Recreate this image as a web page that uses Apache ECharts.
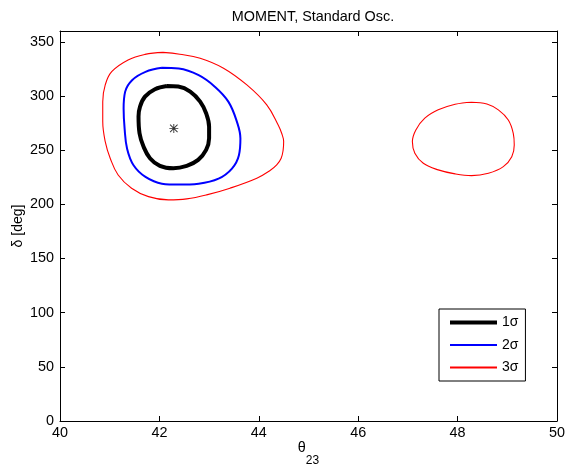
<!DOCTYPE html>
<html><head><meta charset="utf-8">
<script src="https://cdn.jsdelivr.net/npm/echarts@6/dist/echarts.min.js"></script>
<style>html,body{margin:0;padding:0;background:#fff}#c{width:565px;height:466px}</style>
</head><body><div id="c"></div>
<script>
var titleText = 'MOMENT, Standard Osc.';
var xTicks = [40, 42, 44, 46, 48, 50];
var yTicks = [0, 50, 100, 150, 200, 250, 300, 350];
var legendNames = ['1σ', '2σ', '3σ'];
var bestFit = [[42.29, 270.1]];
var sigma1 = [[42.15,309.3],[41.91,306.3],[41.71,299.4],[41.61,290.2],[41.58,281.0],[41.60,265.6],[41.68,253.3],[41.81,242.6],[42.01,235.5],[42.28,233.3],[42.55,235.5],[42.78,241.0],[42.94,250.2],[43.00,261.0],[43.00,271.7],[42.94,284.1],[42.82,294.8],[42.62,304.1],[42.38,308.7],[42.15,309.3]];
var sigma2 = [[42.05,326.0],[41.72,322.3],[41.45,314.6],[41.31,303.8],[41.28,288.4],[41.30,269.9],[41.35,251.4],[41.48,236.1],[41.72,225.3],[42.05,219.1],[42.39,218.2],[42.79,219.1],[43.19,223.7],[43.46,233.0],[43.60,245.3],[43.63,260.7],[43.56,276.1],[43.39,294.6],[43.12,308.4],[42.79,319.2],[42.39,325.3],[42.05,326.0]];
var sigma3a = [[42.07,340.3],[42.41,338.6],[42.82,334.9],[43.29,325.7],[43.76,310.2],[44.16,291.8],[44.39,273.3],[44.46,265.6],[44.50,257.9],[44.49,250.2],[44.45,242.6],[44.36,236.4],[44.22,231.0],[43.96,224.1],[43.42,214.9],[42.95,208.7],[42.55,205.0],[42.18,204.1],[41.78,207.1],[41.44,214.9],[41.17,227.1],[41.01,242.6],[40.91,257.9],[40.86,276.4],[40.86,294.8],[40.91,310.2],[41.04,322.5],[41.37,333.3],[41.71,338.4],[42.07,340.3]];
var sigma3b = [[48.28,294.3],[48.59,292.7],[48.82,287.2],[49.02,277.9],[49.12,265.6],[49.14,254.8],[49.09,244.0],[48.92,234.8],[48.62,228.7],[48.28,226.5],[47.95,228.1],[47.61,231.8],[47.31,237.9],[47.14,247.2],[47.09,257.9],[47.16,268.7],[47.34,279.5],[47.61,287.2],[47.95,292.4],[48.28,294.3]];

var FONT = '"Liberation Sans", Arial, Helvetica, sans-serif';
var chart = echarts.init(document.getElementById('c'), null, {renderer: 'canvas'});
var axisCommon = {
  axisLine: {show: true, onZero: false, lineStyle: {color: '#000', width: 1}},
  axisTick: {show: true, inside: true, length: 5, lineStyle: {color: '#000'}},
  splitLine: {show: false}
};
var lineWidths = {'1σ': 4, '2σ': 2, '3σ': 1.1};
var lineColors = {'1σ': '#000000', '2σ': '#0000ff', '3σ': '#ff0000'};
var asterisk = 'path://M0 4.5H10V5.5H0Z M4.5 0H5.5V10H4.5Z M1.2 0.5L9.5 8.8L8.8 9.5L0.5 1.2Z M8.8 0.5L9.5 1.2L1.2 9.5L0.5 8.8Z';
chart.setOption({
  animation: false,
  backgroundColor: '#fff',
  title: {text: titleText, left: 308, top: 5, textAlign: 'center',
    textStyle: {fontFamily: FONT, fontSize: 14.4, fontWeight: 'normal', color: '#000'}},
  grid: {left: 60, right: 8, top: 31, bottom: 45, containLabel: false, outerBoundsMode: 'none'},
  legend: {
    data: legendNames.map(function (n) {
      var item = {name: n, itemStyle: {opacity: 0}};
      if (n !== '3σ') item.lineStyle = {width: lineWidths[n]};
      return item;
    }),
    orient: 'vertical', left: 439, top: 309,
    padding: [6.5, 7, 6.5, 9], itemGap: 8.5, itemWidth: 47, itemHeight: 12,
    borderColor: '#000', borderWidth: 1, backgroundColor: '#fff',
    itemStyle: {opacity: 0},
    textStyle: {fontFamily: FONT, fontSize: 14, color: '#000'}
  },
  xAxis: [
    Object.assign({type: 'value', min: xTicks[0], max: xTicks[xTicks.length-1], interval: 2, position: 'bottom',
      name: '{a|θ}{b|23}', nameLocation: 'middle', nameGap: 20, nameMoveOverlap: false,
      nameTextStyle: {rich: {a: {fontFamily: FONT, fontSize: 14.4, color: '#000', padding: [0, 0, 13, 0]}, b: {fontFamily: FONT, fontSize: 12, color: '#000', padding: [13, 0, 0, 0]}}},
      axisLabel: {fontFamily: FONT, fontSize: 14.4, color: '#000', margin: 5}}, axisCommon),
    Object.assign({type: 'value', min: xTicks[0], max: xTicks[xTicks.length-1], interval: 2, position: 'top',
      axisLabel: {show: false}}, axisCommon)
  ],
  yAxis: [
    Object.assign({type: 'value', min: 0, max: 360, interval: 50, position: 'left',
      name: 'δ [deg]', nameLocation: 'middle', nameGap: 35, nameRotate: 90, nameMoveOverlap: false,
      nameTextStyle: {fontFamily: FONT, fontSize: 14, color: '#000'},
      axisLabel: {fontFamily: FONT, fontSize: 14.4, color: '#000', margin: 6, showMaxLabel: false}}, axisCommon),
    Object.assign({type: 'value', min: 0, max: 360, interval: 50, position: 'right',
      axisLabel: {show: false}}, axisCommon)
  ],
  series: [
    {name: '3σ', type: 'line', data: sigma3a, symbol: 'none', smooth: 0.4, lineStyle: {color: lineColors['3σ'], width: lineWidths['3σ']}, itemStyle: {color: lineColors['3σ']}},
    {name: '3σ', type: 'line', data: sigma3b, symbol: 'none', smooth: 0.4, lineStyle: {color: lineColors['3σ'], width: lineWidths['3σ']}, itemStyle: {color: lineColors['3σ']}},
    {name: '2σ', type: 'line', data: sigma2, symbol: 'none', smooth: 0.4, lineStyle: {color: lineColors['2σ'], width: lineWidths['2σ']}, itemStyle: {color: lineColors['2σ']}},
    {name: '1σ', type: 'line', data: sigma1, symbol: 'none', smooth: 0.4, lineStyle: {color: lineColors['1σ'], width: lineWidths['1σ']}, itemStyle: {color: lineColors['1σ']}},
    {name: 'best', type: 'scatter', data: bestFit, symbol: asterisk, symbolSize: 9, itemStyle: {color: '#000'}}
  ]
});
</script></body></html>
